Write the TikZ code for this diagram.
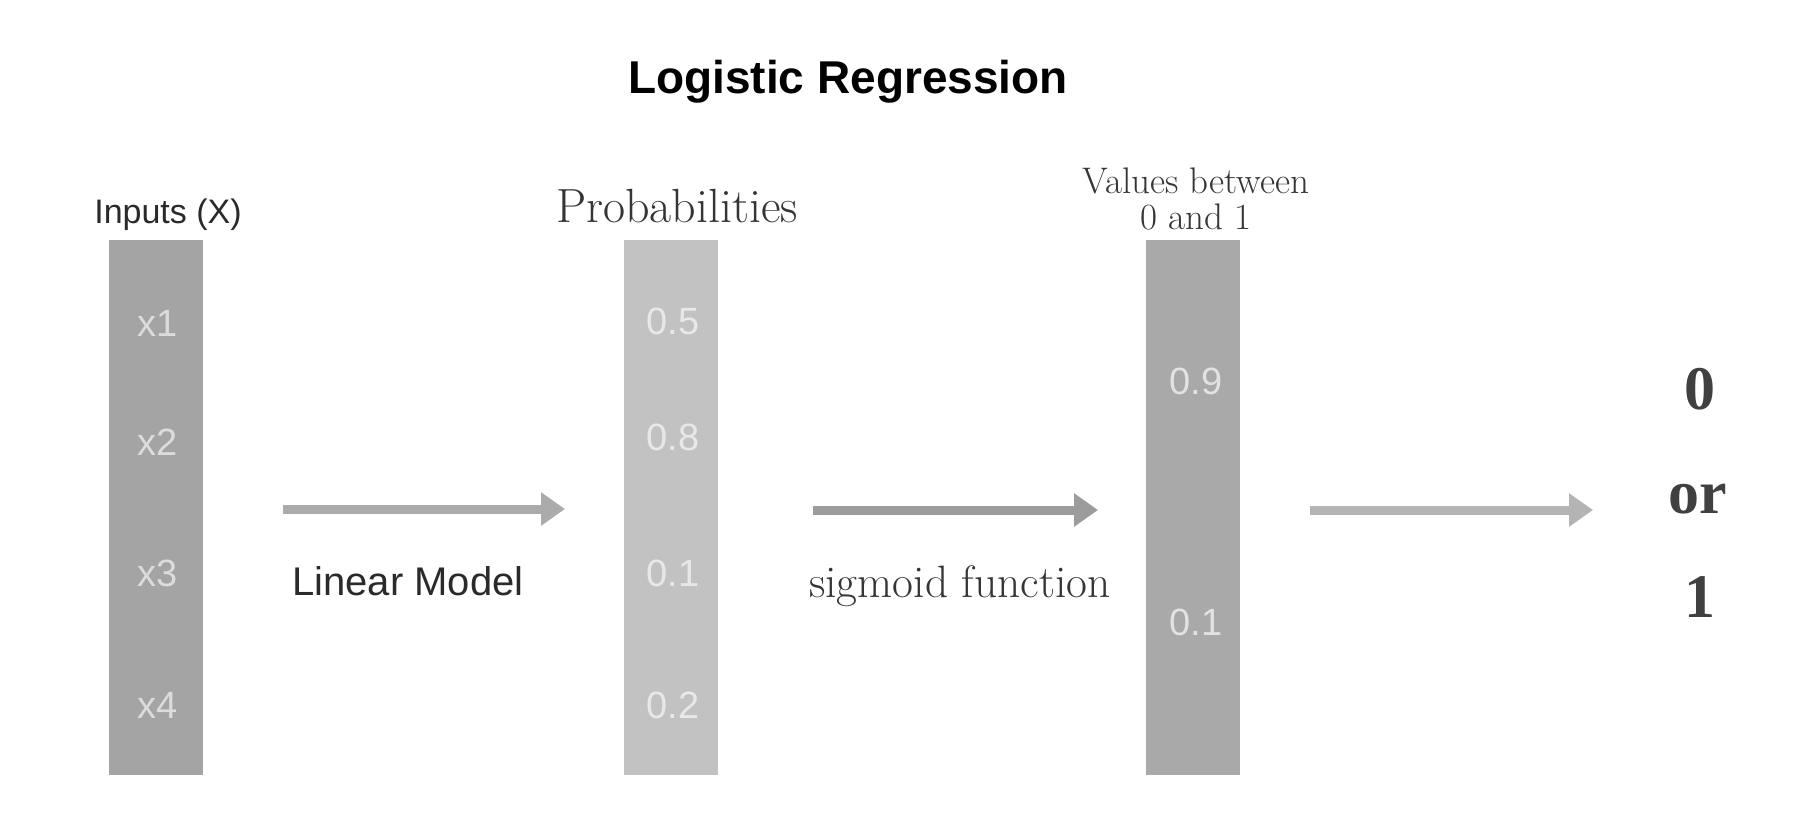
\documentclass[tikz,border=0pt]{standalone}
\usepackage{fontspec}
\usepackage{tikz}
\usetikzlibrary{arrows.meta}
\newfontfamily\arialfont{Liberation Sans}
\newfontfamily\timesfont{Liberation Serif}

\definecolor{barIn}{HTML}{A4A4A4}
\definecolor{barProb}{HTML}{C2C2C2}
\definecolor{barVal}{HTML}{A9A9A9}
\definecolor{cellIn}{HTML}{DCDCDC}
\definecolor{cellProb}{HTML}{E8E8E8}
\definecolor{cellVal}{HTML}{E2E2E2}
\definecolor{lbl}{HTML}{2A2A2A}
\definecolor{serifLbl}{HTML}{353535}
\definecolor{outLbl}{HTML}{404040}

\begin{document}
\begin{tikzpicture}[
            x = 0.5pt,
            y = -0.5pt,
            > = {Triangle[length=12pt, width=16pt]},
            semithick
        ]
        \tikzstyle{bar}=[
            inner sep = 0pt,
            minimum width = 47pt,
            minimum height = 267.5pt
        ]
        \tikzstyle{cell}=[
            inner sep = 0pt,
            font = \arialfont\fontsize{19}{19}\selectfont
        ]
        \tikzstyle{flow}=[->, line width = 4.5pt]
        \useasboundingbox (0,0) rectangle (1820,837);

        \node[anchor=base, text=black,
            font=\arialfont\bfseries\fontsize{23}{23}\selectfont] (title) at (848,93) {Logistic Regression};

        % the three columns
        \node[bar, fill=barIn] (inbar) at (156,507.5) {};
        \node[bar, fill=barProb] (probbar) at (671,507.5) {};
        \node[bar, fill=barVal] (valbar) at (1193,507.5) {};

        \foreach \t/\y [count=\i] in {x1/323, x2/442, x3/573, x4/705}
            \node[cell, text=cellIn] (in\i) at (158,\y) {\t};
        \foreach \t/\y [count=\i] in {0.5/321, 0.8/437, 0.1/573, 0.2/705}
            \node[cell, text=cellProb] (prob\i) at (673,\y) {\t};
        \node[cell, text=cellVal] (val1) at (1196,381) {0.9};
        \node[cell, text=cellVal] (val2) at (1196,622) {0.1};

        % labels
        \node[anchor=base, text=lbl, font=\arialfont\fontsize{17}{17}\selectfont] (inlbl) at (168,223) {Inputs (X)};
        \node[anchor=base, text=serifLbl, font=\fontsize{24}{24}\selectfont] (problbl) at (677,222) {Probabilities};
        \node[align=center, inner sep=0pt, text=serifLbl, font=\fontsize{18.5}{18}\selectfont] (vallbl) at (1196,199) {Values between\\0 and 1};

        % arrows
        \coordinate (a1s) at (283,509);
        \coordinate (a1e) at (565,509);
        \coordinate (a2s) at (813,510);
        \coordinate (a2e) at (1098,510);
        \coordinate (a3s) at (1310,510);
        \coordinate (a3e) at (1593,510);
        \draw[flow, color={rgb,255:red,171;green,171;blue,171}] (a1s) -- (a1e);
        \draw[flow, color={rgb,255:red,156;green,156;blue,156}] (a2s) -- (a2e);
        \draw[flow, color={rgb,255:red,180;green,180;blue,180}] (a3s) -- (a3e);

        \node[anchor=base, text=lbl, font=\arialfont\fontsize{20}{20}\selectfont] (lin) at (408,595) {Linear Model};
        \node[anchor=base, text=serifLbl, font=\fontsize{22.7}{22.7}\selectfont] (sig) at (960,597) {sigmoid function};

        % output
        \node[anchor=base, text=outLbl, font=\timesfont\bfseries\fontsize{31}{31}\selectfont] (zero) at (1700,409) {0};
        \node[anchor=base, text=outLbl, font=\timesfont\bfseries\fontsize{31}{31}\selectfont] (or) at (1698,513) {or};
        \node[anchor=base, text=outLbl, font=\timesfont\bfseries\fontsize{31}{31}\selectfont] (one) at (1700,617) {1};
\end{tikzpicture}
\end{document}
